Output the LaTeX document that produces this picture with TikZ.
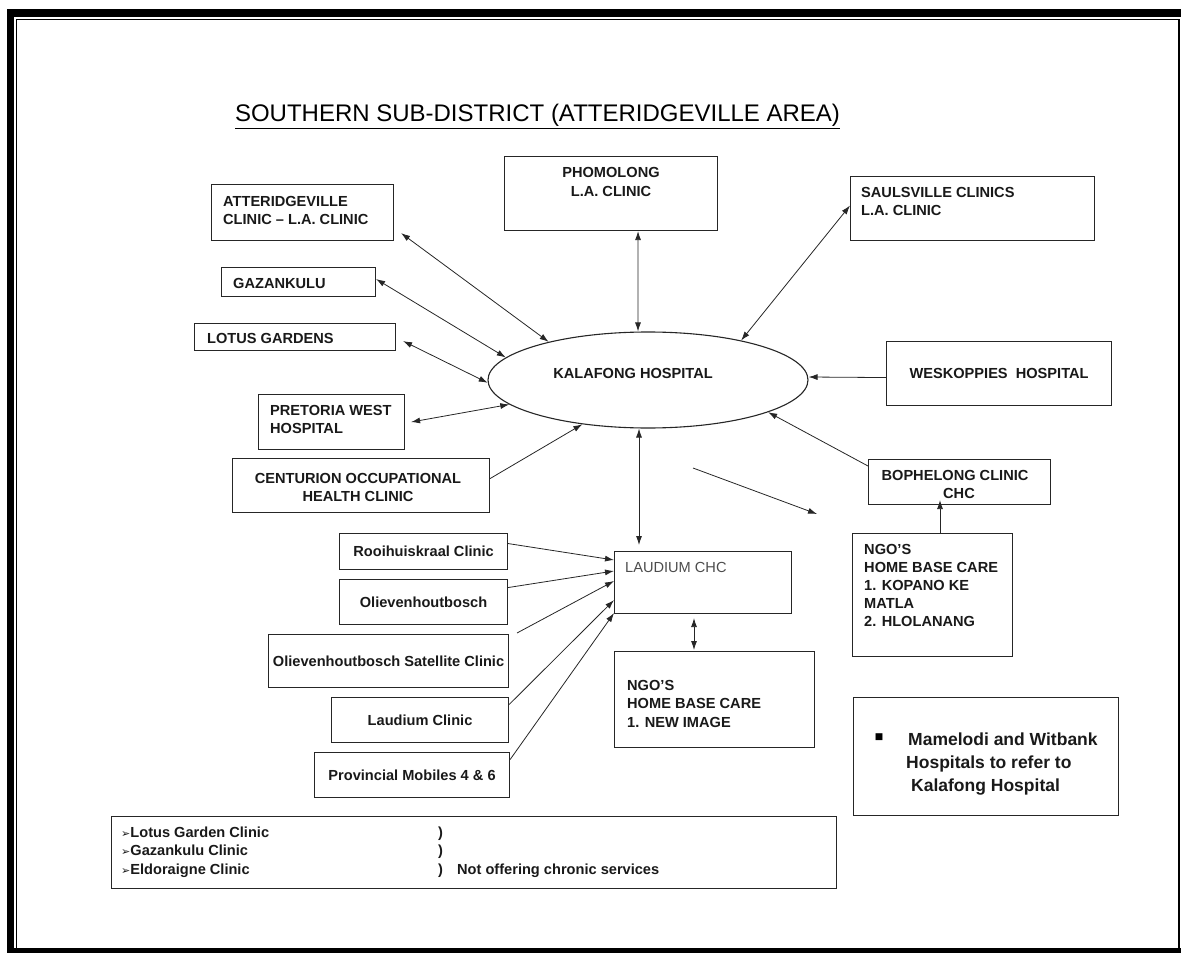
\documentclass[tikz,border=0pt]{standalone}
\usepackage{fontspec}
\setmainfont{Liberation Sans}
\newfontfamily\dejavu{DejaVu Sans}
\usetikzlibrary{arrows.meta,shapes.geometric,calc}
\tikzset{
  box/.style={draw=black!85, line width=1.1pt, inner sep=0pt, anchor=north west,
    font=\bfseries\fontsize{14.6}{18.5}\selectfont, text=black!90},
  lbl/.style={inner sep=0pt, font=\bfseries\fontsize{14.6}{18.5}\selectfont, text=black!90},
  arr/.style={-{Latex[length=9pt,width=6pt]}, line width=0.8pt, draw=black!85},
  dbl/.style={{Latex[length=9pt,width=6pt]}-{Latex[length=9pt,width=6pt]}, line width=0.8pt, draw=black!85},
}
\newcommand{\pointer}{{\dejavu\fontsize{11}{11}\selectfont ➢}}
\begin{document}
\begin{tikzpicture}[x=1pt,y=-1pt]
\useasboundingbox (0,0) rectangle (1181,955);
% frame
\fill[black] (7,9) rectangle (1181,17);
\fill[black] (7,9) rectangle (14,953);
\fill[black] (7,948) rectangle (1181,953);
\draw[line width=1.5pt] (16.5,948) -- (16.5,19.5) -- (1179,19.5) -- (1179,948);

% title
\node[inner sep=0pt, anchor=base, font=\fontsize{24}{28}\selectfont] (title) at (537.5,122)
  {\underline{SOUTHERN SUB-DISTRICT (ATTERIDGEVILLE AREA)}};

% ellipse
\node[draw=black!85, line width=1.1pt, ellipse, minimum width=320pt, minimum height=96pt, inner sep=0pt] (kal) at (648,380) {};
\node[lbl, anchor=base] (kalT) at (633,378.5) {KALAFONG HOSPITAL};

% boxes (top-left corner, size); multi-line labels anchored at the last baseline
\node[box, minimum width=182pt, minimum height=56pt] (att) at (211,184) {};
\node[lbl, anchor=base west, align=left] (attT) at (223,224.5) {ATTERIDGEVILLE\\CLINIC -- L.A. CLINIC};

\node[box, minimum width=213pt, minimum height=74pt] (pho) at (504,156) {};
\node[lbl, anchor=base, align=center] (phoT) at (611,196.5) {PHOMOLONG\\L.A. CLINIC};

\node[box, minimum width=244pt, minimum height=64pt] (sau) at (850,176) {};
\node[lbl, anchor=base west, align=left] (sauT) at (861,215.5) {SAULSVILLE CLINICS\\L.A. CLINIC};

\node[box, minimum width=154pt, minimum height=29pt] (gaz) at (221,267) {};
\node[lbl, anchor=base west] (gazT) at (233,288) {GAZANKULU};

\node[box, minimum width=201pt, minimum height=27pt] (lot) at (194,323) {};
\node[lbl, anchor=base west] (lotT) at (207,343) {LOTUS GARDENS};

\node[box, minimum width=146pt, minimum height=55pt] (pre) at (258,394) {};
\node[lbl, anchor=base west, align=left] (preT) at (270,433.5) {PRETORIA WEST\\HOSPITAL};

\node[box, minimum width=257pt, minimum height=54pt] (cen) at (232,458) {};
\node[lbl, anchor=base, align=center] (cenT) at (358,501.5) {CENTURION OCCUPATIONAL\\HEALTH CLINIC};

\node[box, minimum width=225pt, minimum height=64pt] (wes) at (886,341) {WESKOPPIES~~HOSPITAL};

\node[box, minimum width=182pt, minimum height=45pt] (bop) at (868,459) {};
\node[lbl, anchor=base, align=center] (bopT) at (955,498.5) {BOPHELONG CLINIC\\\hspace*{8pt}CHC};

\node[box, minimum width=168pt, minimum height=36pt] (roo) at (339,533) {Rooihuiskraal Clinic};
\node[box, minimum width=168pt, minimum height=45pt] (oli) at (339,579) {Olievenhoutbosch};
\node[box, minimum width=240pt, minimum height=53pt] (sat) at (268,634) {Olievenhoutbosch Satellite Clinic};
\node[box, minimum width=177pt, minimum height=45pt] (lcl) at (331,697) {Laudium Clinic};
\node[box, minimum width=195pt, minimum height=45pt] (pro) at (314,752) {Provincial Mobiles 4 \& 6};

\node[box, minimum width=177pt, minimum height=62pt] (lch) at (614,551) {};
\node[inner sep=0pt, anchor=base west, font=\fontsize{14.6}{18.5}\selectfont, text=black!70] (lchT) at (625,572) {LAUDIUM CHC};

\node[box, minimum width=200pt, minimum height=96pt] (ngo1) at (614,651) {};
\node[lbl, anchor=base west, align=left] (ngo1T) at (627,727) {NGO'S\\HOME BASE CARE\\1. NEW IMAGE};

\node[box, minimum width=160pt, minimum height=123pt] (ngo2) at (852,533) {};
\node[lbl, anchor=base west, align=left, font=\bfseries\fontsize{14.6}{18.2}\selectfont] (ngo2T) at (864,626.8) {NGO'S\\HOME BASE CARE\\1. KOPANO KE\\MATLA\\2. HLOLANANG};

\node[box, minimum width=265pt, minimum height=118pt] (mam) at (853,697) {};
\node[inner sep=0pt, anchor=base, font=\dejavu\fontsize{9}{9}\selectfont] (mamB) at (879,739) {■};
\node[lbl, anchor=base west, align=left, font=\bfseries\fontsize{17.5}{23}\selectfont] (mamT) at (906,791)
  {\hspace*{2pt}Mamelodi and Witbank\\Hospitals to refer to\\\hspace*{5pt}Kalafong Hospital};

\node[box, minimum width=725pt, minimum height=72pt] (bot) at (111,816) {};
\node[lbl, anchor=base west, align=left] (botT) at (121,874)
  {\pointer Lotus Garden Clinic\\\pointer Gazankulu Clinic\\\pointer Eldoraigne Clinic};
\node[lbl, anchor=base west, align=left] (botP) at (438,874) {)\\)\\)};
\node[lbl, anchor=base west] (botN) at (457,874) {Not offering chronic services};

% connectors to Kalafong
\draw[dbl] ([xshift=7pt,yshift=8pt]att.south east) -- (kal.159);
\draw[dbl] ([yshift=3pt]gaz.east) -- (kal.171);
\draw[dbl] ([xshift=7pt,yshift=-4pt]lot.east) -- (kal.181);
\draw[dbl] ([xshift=6pt]pre.east) -- (kal.190);
\draw[arr] ([yshift=7pt]cen.east) -- (kal.214);
\draw[dbl] ([xshift=27pt]pho.south) -- ([xshift=-10pt]kal.north);
\draw[dbl] ([yshift=3pt]sau.west) -- (kal.23);
\draw[arr] ([yshift=-4pt]wes.west) -- ([yshift=3pt]kal.east);
\draw[arr] ([yshift=-7pt]bop.north west) -- (kal.345);
\draw[dbl] ([xshift=-9pt]kal.south) -- ([xshift=25pt,yshift=6pt]lch.north west);

% stray arrow
\coordinate (s1) at (693,468);
\coordinate (s2) at (817,514);
\draw[arr] (s1) -- (s2);

% into Laudium CHC
\draw[arr] ([yshift=8pt]roo.east) -- ([yshift=-9pt]lch.north west);
\draw[arr] ([yshift=14.5pt]oli.east) -- ([yshift=-20pt]lch.north west);
\coordinate (s3) at (517,633);
\draw[arr] (s3) -- ([yshift=-30pt]lch.north west);
\draw[arr] ([yshift=15.5pt]lcl.east) -- ([yshift=14pt]lch.south west);
\draw[arr] ([yshift=15.5pt]pro.east) -- ([yshift=1pt]lch.south west);

\draw[dbl] ([xshift=80pt,yshift=-4pt]lch.south west) -- ([xshift=80pt,yshift=1pt]ngo1.north west);
\draw[arr] ([xshift=88pt]ngo2.north west) -- ([xshift=72pt,yshift=5pt]bop.south west);
\end{tikzpicture}
\end{document}
